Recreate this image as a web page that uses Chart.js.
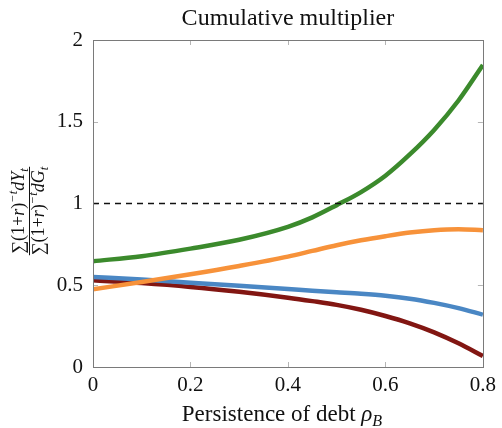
<!DOCTYPE html>
<html>
<head>
<meta charset="utf-8">
<script src="https://cdn.jsdelivr.net/npm/chart.js@4.4.0/dist/chart.umd.min.js"></script>
<style>
  html, body { margin: 0; padding: 0; background: #fff; }
  #wrap { width: 502px; height: 428px; }
</style>
</head>
<body>
<div id="wrap"><canvas id="c" width="502" height="428"></canvas></div>
<script>
// persistence of debt rho_B
const rhoB = [0, 0.1, 0.2, 0.3, 0.4, 0.45, 0.5, 0.55, 0.6, 0.65, 0.7, 0.75, 0.8];
// cumulative multiplier per model
const greenVals  = [0.647, 0.678, 0.724, 0.778, 0.857, 0.915, 0.99, 1.07, 1.17, 1.30, 1.45, 1.63, 1.847];
const orangeVals = [0.475, 0.52, 0.567, 0.618, 0.675, 0.71, 0.745, 0.775, 0.80, 0.822, 0.837, 0.843, 0.837];
const blueVals   = [0.551, 0.535, 0.515, 0.497, 0.477, 0.466, 0.457, 0.448, 0.436, 0.418, 0.392, 0.36, 0.32];
const redVals    = [0.53, 0.513, 0.49, 0.46, 0.424, 0.403, 0.38, 0.35, 0.312, 0.267, 0.212, 0.145, 0.067];
const refLine    = [1, 1];
const xTicks = [0, 0.2, 0.4, 0.6, 0.8];
const yTicks = [0, 0.5, 1, 1.5, 2];
const chartTitle = 'Cumulative multiplier';

const serif = "'Liberation Serif', 'DejaVu Serif', serif";

function pts(vals) {
    return vals.map((v, i) => ({ x: rhoB[i], y: v }));
}

// box + inward tick marks like pgfplots
const boxPlugin = {
    id: 'box',
    afterDatasetsDraw(chart) {
        const ctx = chart.ctx;
        const a = chart.chartArea;
        const xs = chart.scales.x, ys = chart.scales.y;
        ctx.save();
        ctx.strokeStyle = '#b5b5b5';
        ctx.lineWidth = 1;
        ctx.beginPath();
        xTicks.forEach(t => {
            const px = Math.round(xs.getPixelForValue(t)) + 0.5;
            ctx.moveTo(px, a.bottom); ctx.lineTo(px, a.bottom - 5);
            ctx.moveTo(px, a.top); ctx.lineTo(px, a.top + 5);
        });
        yTicks.forEach(t => {
            const py = Math.round(ys.getPixelForValue(t)) + 0.5;
            ctx.moveTo(a.left, py); ctx.lineTo(a.left + 5, py);
            ctx.moveTo(a.right, py); ctx.lineTo(a.right - 5, py);
        });
        ctx.stroke();
        ctx.strokeStyle = '#7a7a7a';
        ctx.strokeRect(Math.round(a.left) + 0.5, Math.round(a.top) + 0.5,
                       Math.round(a.right - a.left), Math.round(a.bottom - a.top));
        ctx.restore();
    }
};

// text made of pieces (italic, superscript, subscript)
function drawPieces(ctx, pieces, x, y, size, measureOnly) {
    let w = 0;
    pieces.forEach(p => {
        const fs = p.sup || p.sub ? size * 0.7 : size;
        ctx.font = (p.it ? 'italic ' : '') + fs + 'px ' + serif;
        const dy = p.sup ? -size * 0.38 : (p.sub ? size * 0.22 : 0);
        if (!measureOnly) ctx.fillText(p.t, x + w, y + dy);
        w += ctx.measureText(p.t).width;
    });
    return w;
}
const numPieces = [
    { t: '\u2211(1+' }, { t: 'r', it: true }, { t: ')' }, { t: '\u2212t', sup: true, it: true },
    { t: 'dY', it: true }, { t: 't', sub: true, it: true }
];
const denPieces = [
    { t: '\u2211(1+' }, { t: 'r', it: true }, { t: ')' }, { t: '\u2212t', sup: true, it: true },
    { t: 'dG', it: true }, { t: 't', sub: true, it: true }
];
const xTitlePieces = [
    { t: 'Persistence of debt ' }, { t: '\u03c1', it: true }, { t: 'B', sub: true, it: true }
];

const labelPlugin = {
    id: 'labels',
    afterDraw(chart) {
        const ctx = chart.ctx;
        const a = chart.chartArea;
        ctx.save();
        ctx.fillStyle = '#111';
        ctx.textBaseline = 'alphabetic';
        // title
        ctx.font = '24px ' + serif;
        ctx.textAlign = 'center';
        ctx.fillText(chartTitle, (a.left + a.right) / 2, 25);
        ctx.textAlign = 'left';
        // x axis title
        const xs = 23;
        const wx = drawPieces(ctx, xTitlePieces, 0, 0, xs, true);
        drawPieces(ctx, xTitlePieces, 282 - wx / 2, 421, xs, false);
        // y axis fraction, rotated
        const size = 18;
        ctx.translate(29, 211);
        ctx.rotate(-Math.PI / 2);
        const wn = drawPieces(ctx, numPieces, 0, 0, size, true);
        const wd = drawPieces(ctx, denPieces, 0, 0, size, true);
        const wMax = Math.max(wn, wd);
        drawPieces(ctx, numPieces, -wn / 2, -5, size, false);
        drawPieces(ctx, denPieces, -wd / 2, 15, size, false);
        ctx.strokeStyle = '#111';
        ctx.lineWidth = 1;
        ctx.beginPath();
        ctx.moveTo(-wMax / 2, 0.5); ctx.lineTo(wMax / 2, 0.5);
        ctx.stroke();
        ctx.restore();
    }
};

const lineStyle = { fill: false, pointRadius: 0, borderWidth: 4.5, cubicInterpolationMode: 'monotone' };

new Chart(document.getElementById('c'), {
    type: 'line',
    data: {
        datasets: [
            { label: 'ref', data: [{ x: 0, y: refLine[0] }, { x: 0.8, y: refLine[1] }],
              borderColor: '#111', borderWidth: 1.4, borderDash: [6, 5], pointRadius: 0, fill: false },
            Object.assign({ label: 'green', data: pts(greenVals), borderColor: '#3b8a2c' }, lineStyle),
            Object.assign({ label: 'orange', data: pts(orangeVals), borderColor: '#f7923a' }, lineStyle),
            Object.assign({ label: 'blue', data: pts(blueVals), borderColor: '#4a87c4' }, lineStyle),
            Object.assign({ label: 'red', data: pts(redVals), borderColor: '#821612' }, lineStyle)
        ]
    },
    options: {
        responsive: false,
        animation: false,
        layout: { padding: { left: 0, right: 15, top: 40, bottom: 0 } },
        plugins: {
            legend: { display: false },
            tooltip: { enabled: false },
            title: { display: false }
        },
        scales: {
            x: {
                type: 'linear',
                min: 0, max: 0.8,
                afterBuildTicks(s) { s.ticks = xTicks.map(v => ({ value: v })); },
                afterFit(s) { s.height = 61; },
                grid: { display: false, drawTicks: false },
                border: { display: false },
                ticks: { color: '#111', font: { family: serif, size: 21 }, padding: 6,
                         callback: v => String(v) }
            },
            y: {
                min: 0, max: 2,
                afterBuildTicks(s) { s.ticks = yTicks.map(v => ({ value: v })); },
                afterFit(s) { s.width = 93; },
                grid: { display: false, drawTicks: false },
                border: { display: false },
                ticks: { color: '#111', font: { family: serif, size: 21 }, padding: 10,
                         callback: v => String(v) }
            }
        }
    },
    plugins: [boxPlugin, labelPlugin]
});
</script>
</body>
</html>
